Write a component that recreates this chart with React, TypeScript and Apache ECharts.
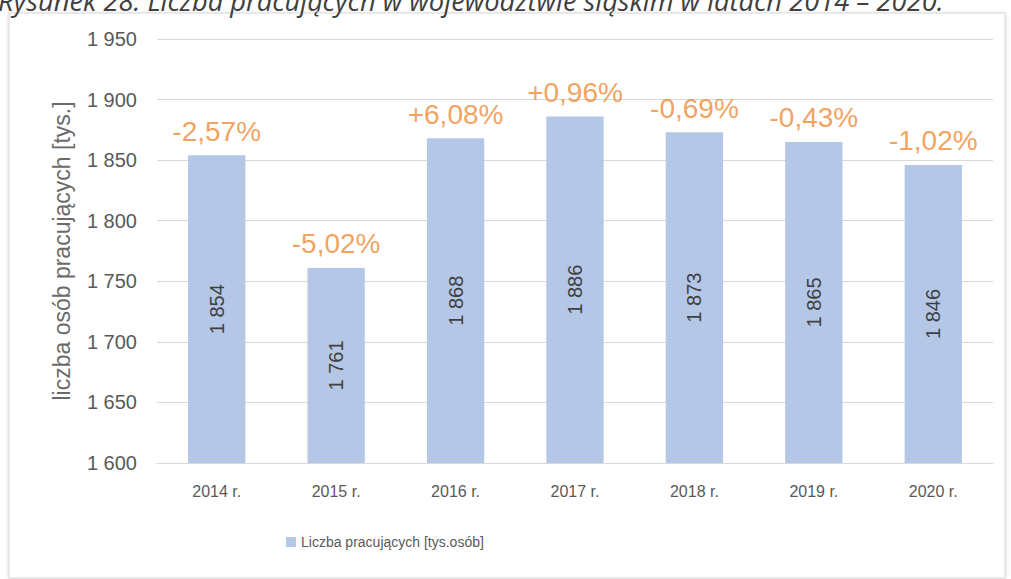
import React, { useEffect, useRef } from "react";
import * as echarts from "echarts";

const categories = ["2014 r.", "2015 r.", "2016 r.", "2017 r.", "2018 r.", "2019 r.", "2020 r."];
const employed = [1854, 1761, 1868, 1886, 1873, 1865, 1846];
const changes = ["-2,57%", "-5,02%", "+6,08%", "+0,96%", "-0,69%", "-0,43%", "-1,02%"];
const seriesName = "Liczba pracujących [tys.osób]";
const yAxisName = "liczba osób pracujących [tys.]";
const titleText = "Rysunek 28. Liczba pracujących w województwie śląskim w latach 2014 – 2020.";

const fmt = (v: number) => {
  const s = String(Math.round(v));
  return s.length > 3 ? s.slice(0, s.length - 3) + " " + s.slice(s.length - 3) : s;
};

export default function App() {
  const ref = useRef<HTMLDivElement>(null);
  useEffect(() => {
    if (!ref.current) return;
    const chart = echarts.init(ref.current, undefined, { renderer: "svg" });
    chart.setOption({
      animation: false,
      backgroundColor: "#ffffff",
      graphic: [
        {
          type: "rect",
          shape: { x: 9, y: 13, width: 996, height: 565 },
          style: { fill: "#ffffff", stroke: "#d6d6d6", lineWidth: 1, shadowBlur: 4, shadowColor: "rgba(0,0,0,0.15)", shadowOffsetY: 1 },
          z: -10,
          silent: true,
        },
        {
          type: "text",
          left: -2,
          top: -13,
          style: {
            text: titleText,
            font: "italic 27.3px 'Open Sans', sans-serif",
            fill: "#404040",
          },
          z: 10,
          silent: true,
        },
      ],
      grid: { left: 157, right: 18, top: 39, bottom: 116, containLabel: false },
      legend: {
        data: [seriesName],
        left: 281,
        top: 530,
        icon: "rect",
        itemWidth: 10,
        itemHeight: 10,
        itemGap: 4,
        textStyle: { color: "#595959", fontSize: 14, fontFamily: "'Liberation Sans', sans-serif" },
      },
      xAxis: {
        type: "category",
        data: categories,
        axisLine: { show: true, lineStyle: { color: "#d9d9d9" } },
        axisTick: { show: false },
        axisLabel: { color: "#595959", fontSize: 16, margin: 20, fontFamily: "'Liberation Sans', sans-serif" },
      },
      yAxis: {
        type: "value",
        min: 1600,
        max: 1950,
        interval: 50,
        name: yAxisName,
        nameLocation: "middle",
        nameGap: 84,
        nameTextStyle: { color: "#6a6a6a", fontSize: 23, fontFamily: "'Liberation Sans', sans-serif" },
        axisLine: { show: false },
        axisTick: { show: false },
        splitLine: { lineStyle: { color: "#d9d9d9", width: 1 } },
        axisLabel: { color: "#595959", fontSize: 20, margin: 20, formatter: (v: number) => fmt(v), fontFamily: "'Liberation Sans', sans-serif" },
      },
      series: [
        {
          name: seriesName,
          type: "bar",
          data: employed,
          barWidth: "48%",
          itemStyle: { color: "#b4c7e7" },
          label: {
            show: true,
            position: "inside",
            rotate: 90,
            color: "#404040",
            fontSize: 20,
            fontFamily: "'Liberation Sans', sans-serif",
            formatter: (p: any) => fmt(p.value),
          },
        },
        {
          name: "changes",
          type: "scatter",
          data: employed,
          symbolSize: 0,
          silent: true,
          label: {
            show: true,
            position: "top",
            distance: 10,
            color: "#ee8a35",
            fontSize: 28,
            fontFamily: "'Liberation Sans', sans-serif",
            formatter: (p: any) => changes[p.dataIndex],
          },
          z: 5,
        },
      ],
    });
    return () => chart.dispose();
  }, []);
  return <div ref={ref} style={{ position: "fixed", left: 0, top: 0, width: 1011, height: 579, background: "#fff" }} />;
}
